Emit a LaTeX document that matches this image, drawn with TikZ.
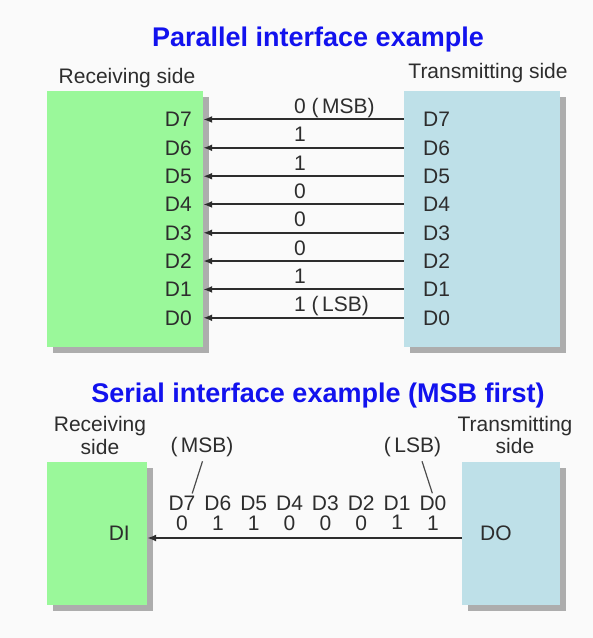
\documentclass[tikz,border=0pt]{standalone}
\usepackage{fontspec}
\setmainfont{Liberation Sans}
\usepackage{xcolor}
\usepackage{tikz}
\usetikzlibrary{positioning, shadows, arrows.meta}
\definecolor{rxgreen}{RGB}{154,248,154}
\definecolor{txblue}{RGB}{190,224,232}
\definecolor{ttlblue}{RGB}{18,18,238}
\definecolor{ink}{RGB}{45,45,45}

\begin{document}
\begin{tikzpicture}[x=1pt, y=-1pt]
   \tikzstyle{lbl}=[inner sep=0pt, text=ink, font=\fontsize{21}{22.3}\selectfont]
   \tikzstyle{ttl}=[inner sep=0pt, text=ttlblue, font=\fontsize{27}{27}\selectfont\bfseries, anchor=base]
   \tikzstyle{side}=[inner sep=0pt, drop shadow={shadow xshift=6pt, shadow yshift=-6pt, opacity=1, fill=black!32}]
   \tikzstyle{sig}=[line width=2pt, draw=ink, -{Latex[length=9pt,width=7pt]}]
   \tikzstyle{lead}=[line width=1.2pt, draw=ink!85]
     \fill[black!2] (0,0) rectangle (593,638);
     \useasboundingbox (0,0) rectangle (593,638);
   %% parallel part
\node (t1) at (318,46) [ttl] {Parallel interface example};
\node (rs1) at (127,83) [lbl, anchor=base] {Receiving side};
\node (ts1) at (488,78) [lbl, anchor=base] {Transmitting side};
\node (rxp) at (125,219) [side, fill=rxgreen, minimum width=156pt, minimum height=256pt] {};
\node (txp) at (482,219) [side, fill=txblue, minimum width=156pt, minimum height=256pt] {};
 \foreach \i/\b in {7/{0 (\,MSB)},6/1,5/1,4/0,3/0,2/0,1/1,0/{1 (\,LSB)}} {
   \pgfmathsetmacro{\yb}{126.7+28.33*(7-\i)}
   \node (r\i) at (192,\yb) [lbl, anchor=base east] {D\i};
   \node (t\i) at (423,\yb) [lbl, anchor=base west] {D\i};
   \node (b\i) at (294,\yb-13.3) [lbl, anchor=base west] {\b};
   \draw[sig] (txp.west |- t\i) -- (rxp.east |- r\i);
 }
   %% serial part
\node (t2) at (318,402) [ttl] {Serial interface example (MSB first)};
\node (rs2) at (100,416.5) [lbl, anchor=north, align=center] {Receiving\\side};
\node (ts2) at (515,416) [lbl, anchor=north, align=center] {Transmitting\\side};
\node (rxs) at (97,533.5) [side, fill=rxgreen, minimum width=100pt, minimum height=143pt] {};
\node (txs) at (511,533.5) [side, fill=txblue, minimum width=98pt, minimum height=143pt] {};
\node (di) at (130,540) [lbl, anchor=base east] {DI};
\node (do) at (480,540) [lbl, anchor=base west] {DO};
\coordinate (sline) at (300,538);
 \draw[sig, line width=1.6pt] (txs.west |- sline) -- (rxs.east |- sline);
 \foreach \i/\b in {7/0,6/1,5/1,4/0,3/0,2/0,1/1,0/1} {
   \pgfmathsetmacro{\xb}{182+35.85*(7-\i)}
   \node (sd\i) at (\xb,510) [lbl, anchor=base] {D\i};
   \node (sb\i) [lbl, below=5pt of sd\i] {\b};
 }
\node (msb) at (202,452) [lbl, anchor=base] {(\,MSB)};
\node (lsb) at (412.5,452) [lbl, anchor=base] {(\,LSB)};
 \draw[lead, shorten <=5pt, shorten >=2pt] ([xshift=2pt]msb.south) -- ([xshift=-4pt]sd7.north east);
 \draw[lead, shorten <=5pt, shorten >=2pt] ([xshift=8pt]lsb.south) -- (sd0.north);
    \end{tikzpicture}
\end{document}
